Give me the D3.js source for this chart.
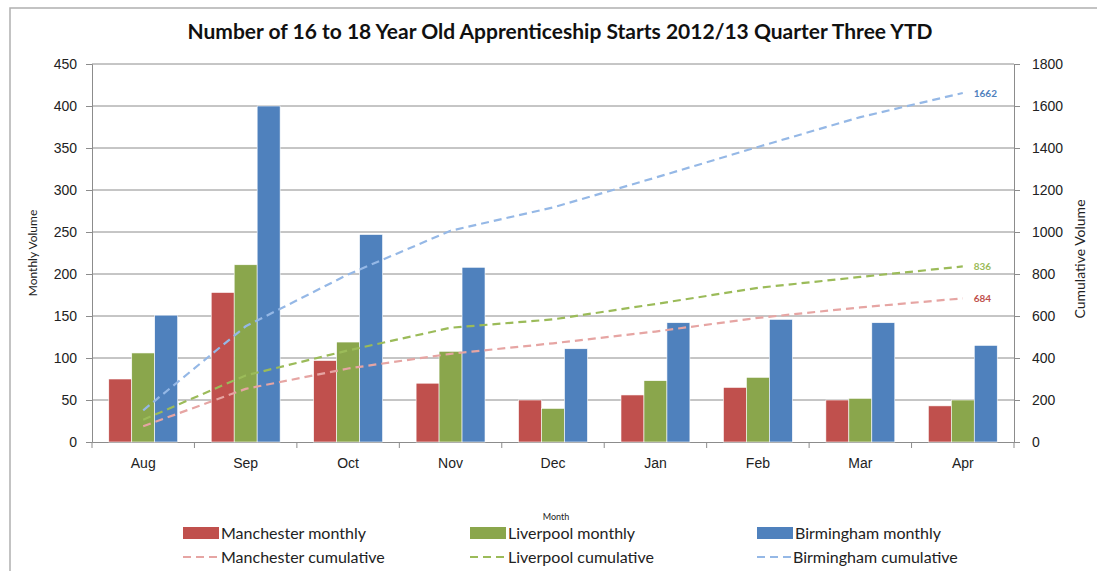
<!DOCTYPE html>
<html>
<head>
<meta charset="utf-8">
<script src="https://cdn.jsdelivr.net/npm/d3@7"></script>
<style>
  body { margin: 0; background: #fff; }
  svg { font-family: Lato, "Open Sans", sans-serif; }
</style>
</head>
<body>
<div id="chart"></div>
<script>
// data
const months = ["Aug", "Sep", "Oct", "Nov", "Dec", "Jan", "Feb", "Mar", "Apr"];
const seriesNames = ["Manchester", "Liverpool", "Birmingham"];

const manchesterMonthly = [75, 178, 97, 70, 50, 56, 65, 50, 43];
const liverpoolMonthly = [106, 211, 119, 108, 40, 73, 77, 52, 50];
const birminghamMonthly = [151, 400, 247, 208, 111, 142, 146, 142, 115];

const manchesterCumulative = [75, 253, 350, 420, 470, 526, 591, 641, 684];
const liverpoolCumulative = [106, 317, 436, 544, 584, 657, 734, 786, 836];
const birminghamCumulative = [151, 551, 798, 1006, 1117, 1259, 1405, 1547, 1662];

const leftTicks = [0, 50, 100, 150, 200, 250, 300, 350, 400, 450];
const rightTicks = [0, 200, 400, 600, 800, 1000, 1200, 1400, 1600, 1800];

const barColors = ["#c0504d", "#8aa64c", "#4f81bd"];
const lineColors = ["#e6a5a3", "#9bbb59", "#95b8e6"];
const labelColors = ["#c0504d", "#9bbb59", "#4f81bd"];

const monthly = [manchesterMonthly, liverpoolMonthly, birminghamMonthly];
const cumulative = [manchesterCumulative, liverpoolCumulative, birminghamCumulative];

const width = 1097;
const height = 571;
const plot = { left: 92, right: 1014, top: 64, bottom: 442 };

const svg = d3.select("#chart")
  .append("svg")
  .attr("width", width)
  .attr("height", height);

// chart border (only left and top edges are visible in the crop)
svg.append("path")
  .attr("d", `M10,${height} V8 H${width}`)
  .attr("fill", "none")
  .attr("stroke", "#b0b0b0")
  .attr("stroke-width", 1.5);

const x = d3.scaleBand()
  .domain(months)
  .range([plot.left, plot.right]);

const xs = d3.scaleBand()
  .domain(seriesNames)
  .range([0, x.bandwidth()])
  .paddingOuter(0.73);

const y = d3.scaleLinear()
  .domain([0, 450])
  .range([plot.bottom, plot.top]);

const y2 = d3.scaleLinear()
  .domain([0, 1800])
  .range([plot.bottom, plot.top]);

// gridlines
svg.append("g")
  .selectAll("line")
  .data(leftTicks.slice(1))
  .join("line")
    .attr("x1", plot.left).attr("x2", plot.right)
    .attr("y1", d => y(d)).attr("y2", d => y(d))
    .attr("stroke", "#8c8c8c")
    .attr("stroke-width", 1);

// axes
const leftAxis = g => g
  .attr("transform", `translate(${plot.left},0)`)
  .call(d3.axisLeft(y).tickValues(leftTicks).tickSizeOuter(0).tickSize(6).tickPadding(9))
  .call(g => g.selectAll("line, path").attr("stroke", "#8c8c8c"))
  .call(g => g.selectAll("text").attr("font-size", 14).attr("fill", "#222"));
svg.append("g").call(leftAxis);

const rightAxis = g => g
  .attr("transform", `translate(${plot.right},0)`)
  .call(d3.axisRight(y2).tickValues(rightTicks).tickFormat(d3.format("d")).tickSizeOuter(0).tickSize(6).tickPadding(12))
  .call(g => g.selectAll("line, path").attr("stroke", "#8c8c8c"))
  .call(g => g.selectAll("text").attr("font-size", 14).attr("fill", "#222"));
svg.append("g").call(rightAxis);

const bottomAxis = g => g
  .attr("transform", `translate(0,${plot.bottom})`)
  .call(d3.axisBottom(x).tickSize(0).tickPadding(16))
  .call(g => g.select(".domain").attr("stroke", "#8c8c8c"))
  .call(g => g.selectAll("text").attr("font-size", 14).attr("fill", "#222"));
svg.append("g").call(bottomAxis);

// category separator ticks
svg.append("g")
  .selectAll("line")
  .data(months.concat(["end"]))
  .join("line")
    .attr("x1", (d, i) => plot.left + i * x.step())
    .attr("x2", (d, i) => plot.left + i * x.step())
    .attr("y1", plot.bottom).attr("y2", plot.bottom + 6)
    .attr("stroke", "#8c8c8c");

// bars
seriesNames.forEach((name, si) => {
  svg.append("g")
    .attr("fill", barColors[si])
    .selectAll("rect")
    .data(monthly[si])
    .join("rect")
      .attr("x", (d, i) => x(months[i]) + xs(name))
      .attr("y", d => y(d))
      .attr("width", xs.bandwidth())
      .attr("height", d => y(0) - y(d))
      .attr("stroke", "#ffffff")
      .attr("stroke-width", 0.6);
});

// cumulative lines
const line = d3.line()
  .x((d, i) => x(months[i]) + x.bandwidth() / 2)
  .y(d => y2(d));

seriesNames.forEach((name, si) => {
  svg.append("path")
    .datum(cumulative[si])
    .attr("d", line)
    .attr("fill", "none")
    .attr("stroke", lineColors[si])
    .attr("stroke-width", 2.2)
    .attr("stroke-dasharray", "8,5");

  const last = cumulative[si][cumulative[si].length - 1];
  svg.append("text")
    .attr("x", x(months[months.length - 1]) + x.bandwidth() / 2 + 11)
    .attr("y", y2(last) + 4)
    .attr("font-size", 10)
    .attr("font-weight", "bold")
    .attr("fill", labelColors[si])
    .text(last);
});

// titles
svg.append("text")
  .attr("x", 560).attr("y", 39)
  .attr("text-anchor", "middle")
  .attr("font-size", 21)
  .attr("font-weight", "bold")
  .attr("fill", "#111")
  .text("Number of 16 to 18 Year Old Apprenticeship Starts 2012/13 Quarter Three YTD");

svg.append("text")
  .attr("transform", `translate(37,${(plot.top + plot.bottom) / 2}) rotate(-90)`)
  .attr("text-anchor", "middle")
  .attr("font-size", 12)
  .attr("fill", "#222")
  .text("Monthly Volume");

svg.append("text")
  .attr("transform", `translate(1085,${(plot.top + plot.bottom) / 2 + 6}) rotate(-90)`)
  .attr("text-anchor", "middle")
  .attr("font-size", 14)
  .attr("fill", "#222")
  .text("Cumulative Volume");

svg.append("text")
  .attr("x", 556).attr("y", 520)
  .attr("text-anchor", "middle")
  .attr("font-size", 9)
  .attr("fill", "#222")
  .text("Month");

// legend
const legendX = [183, 470, 757];
const legend = svg.append("g");

seriesNames.forEach((name, si) => {
  legend.append("rect")
    .attr("x", legendX[si]).attr("y", 527)
    .attr("width", 36).attr("height", 12)
    .attr("fill", barColors[si]);
  legend.append("text")
    .attr("x", legendX[si] + 38).attr("y", 539)
    .attr("font-size", 16)
    .attr("fill", "#222")
    .text(name + " monthly");

  legend.append("line")
    .attr("x1", legendX[si]).attr("x2", legendX[si] + 34)
    .attr("y1", 557).attr("y2", 557)
    .attr("stroke", lineColors[si])
    .attr("stroke-width", 2.2)
    .attr("stroke-dasharray", "8,5");
  legend.append("text")
    .attr("x", legendX[si] + (si === 2 ? 36 : 38)).attr("y", 563)
    .attr("font-size", 16)
    .attr("fill", "#222")
    .text(name + " cumulative");
});
</script>
</body>
</html>
